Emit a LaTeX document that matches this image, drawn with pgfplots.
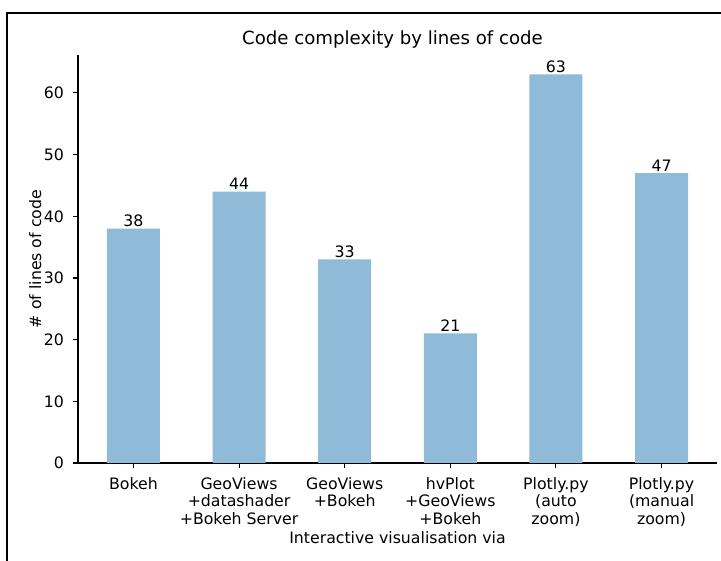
\documentclass[border=0pt]{standalone}
\usepackage{pgfplots}
\pgfplotsset{compat=1.18}
\usepackage{fontspec}
\setmainfont{DejaVu Sans}

\definecolor{barblue}{RGB}{143,187,217}

\begin{document}
\begin{tikzpicture}[x=1bp,y=1bp]
\useasboundingbox (0,0) rectangle (721,561);
% screenshot frame
\draw[line width=2bp] (7,0) -- (7,548) -- (721,548);
\begin{axis}[
    at={(78bp,98bp)}, anchor=south west,
    scale only axis,
    width=639bp, height=408bp,
    /pgf/number format/assume math mode=true,
    font=\fontsize{15.8}{18}\selectfont,
    axis lines*=left,
    axis line style={line width=1.1bp},
    xmin=-0.525, xmax=5.525,
    ymin=0, ymax=66.15,
    ytick={0,10,20,30,40,50,60},
    xtick={0,1,2,3,4,5},
    xticklabels={Bokeh,
        {GeoViews\\+datashader\\+Bokeh Server},
        {GeoViews\\+Bokeh},
        {hvPlot\\+GeoViews\\+Bokeh},
        {Plotly.py\\(auto\\zoom)},
        {Plotly.py\\(manual\\zoom)}},
    xticklabel style={align=center, anchor=north, inner sep=0pt, yshift=-9bp},
    yticklabel style={anchor=east, inner sep=0pt, xshift=-9bp},
    tick align=outside,
    major tick length=4.9bp,
    tick style={line width=1.1bp, black},
    title={Code complexity by lines of code},
    title style={font=\fontsize{18.2}{21}\selectfont, at={(axis description cs:0.5,1)}, anchor=center, yshift=10bp, xshift=-5bp},
    xlabel={Interactive visualisation via},
    xlabel style={at={(axis description cs:0.5,-0.184)}, anchor=center},
    ylabel={\# of lines of code},
    ylabel style={at={(axis description cs:-0.067,0.5)}, anchor=center},
    nodes near coords,
    every node near coord/.append style={font=\fontsize{15.8}{18}\selectfont, inner sep=1.5bp},
    ybar, bar width=53bp,
]
\addplot[fill=barblue, draw=none] coordinates {(0,38) (1,44) (2,33) (3,21) (4,63) (5,47)};
\end{axis}
\end{tikzpicture}
\end{document}
